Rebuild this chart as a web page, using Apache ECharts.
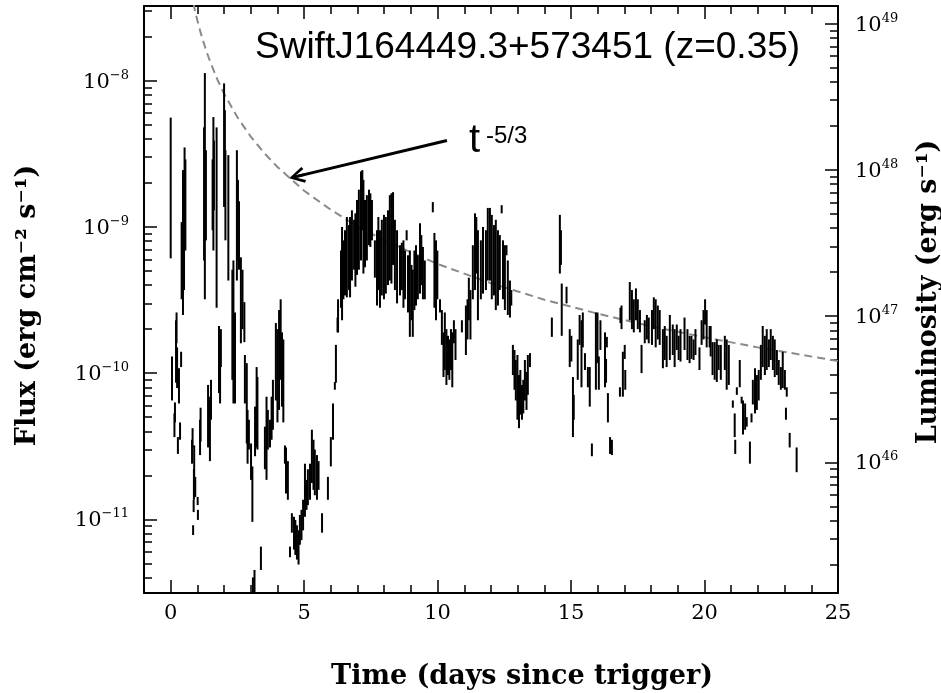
<!DOCTYPE html>
<html><head><meta charset="utf-8">
<script src="https://cdn.jsdelivr.net/npm/echarts@6/dist/echarts.min.js"></script>
<style>html,body{margin:0;padding:0;background:#fff}#c{width:941px;height:693px}</style>
</head><body><div id="c"></div>
<script>
// ---- light-curve data (time in days since trigger, flux band of each bin, erg cm^-2 s^-1) ----
const times = [
0.00,0.05,0.14,0.16,0.20,0.22,0.24,0.27,0.31,0.35,0.39,0.41,0.46,0.50,0.52,0.55,0.80,0.82,0.86,0.84,0.87,0.88,0.92,1.01,1.02,1.10,1.12,
1.25,1.28,1.32,1.40,1.43,1.47,1.51,1.57,1.60,1.62,1.72,1.81,1.85,1.88,2.00,2.03,2.05,2.16,
2.31,2.35,2.41,2.48,2.52,2.56,2.63,2.69,2.76,2.78,2.85,2.88,2.93,3.01,3.06,3.08,3.14,3.16,3.22,3.25,3.38,
3.53,3.59,3.64,3.72,3.78,3.83,3.94,4.00,4.06,4.12,4.17,4.22,4.28,4.32,4.39,4.47,4.54,4.62,4.67,4.73,4.79,4.84,4.90,4.96,5.03,5.09,5.14,5.22,5.29,5.35,5.40,5.48,5.54,5.67,
5.89,6.00,6.08,6.15,6.19,6.25,6.27,6.38,6.42,6.47,6.53,6.60,6.68,6.72,6.79,6.87,6.92,6.98,7.05,7.13,7.18,7.22,7.28,
7.35,7.43,7.48,7.54,7.65,7.73,7.78,7.84,7.91,7.99,8.06,8.14,8.21,8.27,8.33,8.40,8.48,8.59,8.66,8.72,8.78,8.84,8.89,8.96,9.02,9.07,9.13,9.19,9.26,9.34,9.39,9.45,9.52,9.82,9.88,9.94,9.99,10.09,
10.16,10.22,10.27,10.33,10.39,10.44,10.50,10.55,10.61,10.67,10.91,11.06,11.12,11.17,11.23,11.32,11.40,11.45,11.51,
11.62,11.70,11.81,11.88,11.96,12.03,12.11,12.18,12.26,12.33,12.40,12.45,12.52,12.58,12.63,12.71,12.76,
12.82,12.88,12.93,12.99,13.05,13.10,13.16,13.21,13.27,13.33,13.38,13.46,
14.28,14.58,14.62,14.65,14.83,14.95,15.01,15.07,15.10,15.25,15.32,15.39,15.44,15.52,15.63,15.70,15.78,15.93,15.99,16.04,16.10,16.27,16.31,16.34,16.38,16.46,16.53,
16.83,16.85,16.89,16.94,17.01,17.03,17.20,17.28,17.35,17.43,17.50,17.58,17.64,17.76,17.84,17.91,18.03,18.10,18.17,18.25,18.32,18.44,18.51,18.58,18.70,18.81,18.88,18.96,19.03,19.10,19.25,19.36,19.44,19.51,19.59,19.66,19.81,19.89,19.96,20.02,20.08,20.19,20.23,20.30,20.38,20.46,20.53,20.61,20.76,20.83,20.91,
21.06,21.13,21.15,21.21,21.32,21.39,21.44,21.52,21.58,21.70,21.76,21.81,21.89,21.96,22.03,22.11,22.18,22.26,22.33,22.41,22.48,22.56,22.63,22.71,22.78,22.86,22.93,23.01,23.05,23.08,23.19,23.45
];
const fluxHigh = [
5.6e-9,1.3e-10,5.3e-11,6.3e-11,2.3e-10,2.6e-10,1.5e-10,3.65e-11,1.08e-10,4.6e-11,1.4e-10,1.08e-9,2.45e-9,1.8e-9,3.5e-9,2.9e-9,3.5e-11,4.2e-11,1.36e-11,9.1e-12,2.2e-11,3.2e-11,1.95e-11,1.42e-11,1.16e-11,4.8e-11,5.8e-11,
4.8e-9,1.13e-8,3.35e-9,8.3e-11,6.9e-11,6.5e-11,9.0e-11,2.9e-9,5.65e-9,3.9e-9,4.8e-9,2.1e-10,1.8e-10,2.0e-10,9.6e-9,6.3e-9,3.35e-9,3.1e-9,
5.1e-10,5.9e-10,2.6e-10,3.35e-9,2.1e-9,1.5e-9,6.2e-10,5.1e-10,3.06e-10,1.33e-10,1.17e-10,5.6e-11,4.8e-11,3.3e-11,2.3e-11,4.0e-12,4.5e-12,5.9e-11,1.1e-10,9.4e-11,6.5e-12,
4.3e-11,6.9e-11,5.6e-11,4.8e-11,6.9e-11,9.0e-11,2.2e-10,2.0e-10,2.7e-10,3.2e-10,1.9e-10,1.7e-10,3.2e-11,3.1e-11,2.5e-11,6.5e-12,1.1e-11,1.04e-11,9.9e-12,9.1e-12,8.4e-12,1.07e-11,1.16e-11,1.36e-11,2.4e-11,1.86e-11,2.2e-11,2.4e-11,4.1e-11,3.5e-11,3.0e-11,2.75e-11,2.5e-11,1.1e-11,
1.95e-11,3.65e-11,6.2e-11,8.7e-11,1.56e-10,2.4e-10,3.2e-10,6.9e-10,1.0e-9,8.1e-10,9.5e-10,1.17e-9,1.03e-9,1.17e-9,1.3e-9,1.12e-9,1.24e-9,1.53e-9,1.8e-9,2.4e-9,2.45e-9,2.1e-9,1.53e-9,
1.65e-9,1.8e-9,1.7e-9,1.53e-9,8.1e-10,9.5e-10,1.17e-9,9.5e-10,1.12e-9,1.21e-9,1.17e-9,1.3e-9,1.65e-9,1.7e-9,1.73e-9,1.12e-9,9.5e-10,7.5e-10,7.8e-10,8.1e-10,6.9e-10,9.5e-10,6.4e-10,6.9e-10,5.5e-10,5.1e-10,6.9e-10,7.5e-10,6.4e-10,1.06e-9,8.8e-10,7.3e-10,5.9e-10,1.48e-9,9.1e-10,8.1e-10,6.9e-10,3.2e-10,
2.7e-10,1.9e-10,2.6e-10,2.0e-10,1.8e-10,1.7e-10,2.0e-10,1.9e-10,2.3e-10,2.0e-10,2.3e-10,2.9e-10,3.2e-10,4.5e-10,3.7e-10,7.5e-10,1.24e-9,1.17e-9,9.5e-10,
8.1e-10,1.0e-9,9.5e-10,1.35e-9,1.35e-9,1.21e-9,1.03e-9,1.12e-9,9.5e-10,8.8e-10,1.41e-9,8.1e-10,7.5e-10,7.5e-10,5.9e-10,4.3e-10,3.7e-10,
1.56e-10,1.44e-10,1.23e-10,1.33e-10,9.7e-11,1.05e-10,8.3e-11,9.0e-11,1.23e-10,1.02e-10,1.33e-10,1.37e-10,
2.4e-10,1.21e-9,9.5e-10,4.1e-10,3.9e-10,2.0e-10,1.8e-10,9.4e-11,7.1e-11,1.7e-10,2.5e-10,2.3e-10,2.6e-10,1.37e-10,1.1e-10,1.1e-10,3.3e-11,2.6e-10,2.6e-10,1.3e-10,2.3e-10,1.9e-10,1.25e-10,1.77e-10,7.3e-11,3.65e-11,3.5e-11,
8.0e-11,2.8e-10,2.9e-10,1.4e-10,1.56e-10,1.05e-10,4.2e-10,3.7e-10,3.2e-10,3.8e-10,3.2e-10,2.7e-10,1.56e-10,2.3e-10,2.5e-10,2.4e-10,2.7e-10,3.3e-10,3.2e-10,2.9e-10,2.7e-10,2.0e-10,2.1e-10,1.8e-10,2.5e-10,2.15e-10,2.0e-10,2.15e-10,1.8e-10,2.0e-10,2.4e-10,2.0e-10,1.8e-10,1.8e-10,1.7e-10,2.0e-10,1.5e-10,2.3e-10,2.7e-10,3.2e-10,2.7e-10,2.1e-10,2.1e-10,1.63e-10,1.63e-10,1.7e-10,1.56e-10,1.56e-10,1.8e-10,1.7e-10,1.56e-10,
6.5e-11,5.3e-11,3.5e-11,8.0e-11,1.23e-10,6.9e-11,6.5e-11,6.2e-11,5.0e-11,3.4e-11,5.3e-11,9.0e-11,1.08e-10,9.7e-11,1.05e-10,1.56e-10,2.1e-10,1.8e-10,2.0e-10,1.7e-10,2.0e-10,1.8e-10,1.7e-10,1.44e-10,1.23e-10,1.1e-10,1.4e-10,1.05e-10,5.8e-11,8.0e-11,3.9e-11,3.1e-11
];
const fluxLow = [
6.1e-10,6.5e-11,3.65e-11,4.6e-11,8.6e-11,1.6e-10,7.9e-11,2.8e-11,6.2e-11,3.5e-11,1.1e-10,3.2e-10,2.5e-10,3.7e-10,1.46e-9,6.9e-10,2.4e-11,3.1e-11,1.12e-11,7.8e-12,1.36e-11,1.95e-11,1.42e-11,1.25e-11,9.9e-12,2.75e-11,3.4e-11,
5.9e-10,3.2e-10,8.1e-10,3.1e-11,3.5e-11,2.5e-11,4.8e-11,9.5e-10,6.9e-10,1.3e-9,2.8e-10,7.3e-11,6.2e-11,1.1e-10,1.37e-9,1.53e-9,8.1e-10,4.3e-10,
9.0e-11,6.2e-11,6.2e-11,4.3e-10,5.9e-10,5.1e-10,1.6e-10,2.0e-10,1.63e-10,6.2e-11,3.3e-11,2.4e-11,3.0e-11,1.86e-11,9.6e-12,3.1e-12,3.1e-12,2.7e-11,3.1e-11,3.0e-11,4.5e-12,
2.2e-11,1.86e-11,3.0e-11,3.1e-11,3.5e-11,4.1e-11,6.5e-11,4.6e-11,5.6e-11,9.0e-11,5.9e-11,4.6e-11,2.4e-11,1.5e-11,1.36e-11,5.5e-12,8.1e-12,6.2e-12,5.7e-12,5.3e-12,4.9e-12,6.7e-12,7.2e-12,8.4e-12,1.04e-11,1.16e-11,1.25e-11,1.36e-11,1.77e-11,1.59e-11,1.46e-11,1.36e-11,1.59e-11,8.1e-12,
1.36e-11,2.3e-11,3.5e-11,7.7e-11,8.6e-11,1.9e-10,1.9e-10,2.8e-10,2.3e-10,3.2e-10,3.4e-10,3.3e-10,3.7e-10,3.3e-10,4.3e-10,5.1e-10,3.9e-10,4.7e-10,5.1e-10,5.9e-10,9.5e-10,4.8e-10,5.3e-10,
5.9e-10,7.5e-10,7.3e-10,8.1e-10,4.5e-10,2.9e-10,3.7e-10,2.8e-10,3.4e-10,3.2e-10,3.5e-10,4.0e-10,4.3e-10,4.1e-10,5.5e-10,3.7e-10,3.0e-10,3.4e-10,3.7e-10,2.8e-10,3.2e-10,8.1e-10,2.6e-10,1.77e-10,2.3e-10,1.77e-10,2.7e-10,2.9e-10,3.2e-10,3.5e-10,4.0e-10,3.2e-10,3.2e-10,1.26e-9,2.8e-10,2.3e-10,3.2e-10,2.6e-10,
1.56e-10,9.4e-11,1.05e-10,8.3e-11,9.7e-11,9.0e-11,1.05e-10,8.0e-11,1.6e-10,1.23e-10,1.9e-10,1.33e-10,1.7e-10,2.3e-10,1.7e-10,3.2e-10,3.7e-10,4.8e-10,2.3e-10,
3.2e-10,3.5e-10,3.7e-10,4.3e-10,4.3e-10,3.2e-10,3.4e-10,2.7e-10,2.9e-10,3.7e-10,1.24e-9,3.2e-10,2.7e-10,6.4e-10,2.5e-10,2.4e-10,2.9e-10,
9.7e-11,7.7e-11,6.5e-11,4.8e-11,4.2e-11,5.2e-11,4.8e-11,5.3e-11,6.5e-11,5.6e-11,7.1e-11,1.1e-10,
1.77e-10,4.8e-10,5.5e-10,1.8e-10,3.0e-10,1.1e-10,1.2e-10,3.65e-11,4.8e-11,9.0e-11,1.56e-10,8.0e-11,1.5e-10,1.05e-10,8.0e-11,5.9e-11,2.7e-11,7.7e-11,1.17e-10,7.7e-11,1.44e-10,8.0e-11,8.6e-11,1.5e-10,4.6e-11,2.8e-11,2.75e-11,
6.9e-11,2.2e-10,2.0e-10,6.9e-11,1.25e-10,7.7e-11,2.3e-10,2.0e-10,1.9e-10,2.3e-10,2.0e-10,1.9e-10,1.0e-10,1.6e-10,1.7e-10,1.6e-10,1.56e-10,2.0e-10,1.5e-10,1.7e-10,1.56e-10,1.08e-10,1.23e-10,1.1e-10,1.23e-10,1.33e-10,1.1e-10,1.44e-10,1.23e-10,1.2e-10,1.44e-10,1.23e-10,1.17e-10,1.25e-10,1.23e-10,1.33e-10,1.05e-10,1.56e-10,1.7e-10,2.15e-10,1.5e-10,1.5e-10,1.3e-10,9.7e-11,9.0e-11,8.7e-11,1.05e-10,9.0e-11,1.05e-10,7.7e-11,8.3e-11,
5.8e-11,3.65e-11,2.8e-11,7.1e-11,8.0e-11,6.2e-11,3.8e-11,4.1e-11,4.3e-11,2.4e-11,4.6e-11,6.1e-11,5.3e-11,5.6e-11,6.5e-11,9.0e-11,1.1e-10,9.7e-11,1.05e-10,1.1e-10,1.23e-10,1.05e-10,9.4e-11,9.7e-11,8.3e-11,7.7e-11,7.9e-11,7.7e-11,4.8e-11,6.9e-11,3.1e-11,2.1e-11
];
// ---- t^-5/3 curve ----
const modelTimes = [0.85,0.9,0.95,1.0,1.1,1.2,1.35,1.5,1.75,2,2.5,3,3.5,4,5,6,7,8,10,12,14,16,18,20,22,25];
const modelFlux  = [3.40e-8,3.09e-8,2.82e-8,2.59e-8,2.21e-8,1.91e-8,1.57e-8,1.32e-8,1.02e-8,8.16e-9,5.63e-9,4.15e-9,3.21e-9,2.57e-9,1.77e-9,1.31e-9,1.01e-9,8.09e-10,5.58e-10,4.12e-10,3.18e-10,2.55e-10,2.09e-10,1.76e-10,1.50e-10,1.21e-10];
// ---- arrow annotation (time, flux) ----
const arrowStart = [10.35, 3.9e-9];
const arrowEnd = [4.73, 2.22e-9];
// ---- axes ----
const xRange = [-1, 25];
const xMajorTicks = [0,5,10,15,20,25];
const xMinorTicks = [0,1,2,3,4,5,6,7,8,9,10,11,12,13,14,15,16,17,18,19,20,21,22,23,24,25];
const fluxRange = [3.13e-12, 3.25e-8];
const fluxMajorTicks = [1e-11,1e-10,1e-9,1e-8];
const fluxMinorTicks = [4e-12,5e-12,6e-12,7e-12,8e-12,9e-12,
  2e-11,3e-11,4e-11,5e-11,6e-11,7e-11,8e-11,9e-11,
  2e-10,3e-10,4e-10,5e-10,6e-10,7e-10,8e-10,9e-10,
  2e-9,3e-9,4e-9,5e-9,6e-9,7e-9,8e-9,9e-9,
  2e-8,3e-8];
const lumRange = [1.28e45, 1.32e49];
const lumMajorTicks = [1e46,1e47,1e48,1e49];
const lumMinorTicks = [2e45,3e45,4e45,5e45,6e45,7e45,8e45,9e45,
  2e46,3e46,4e46,5e46,6e46,7e46,8e46,9e46,
  2e47,3e47,4e47,5e47,6e47,7e47,8e47,9e47,
  2e48,3e48,4e48,5e48,6e48,7e48,8e48,9e48];

const serif = "'DejaVu Serif', serif";
const sans = "'Liberation Sans', Arial, sans-serif";

function powLabel(v) {
  const e = Math.round(Math.log10(v));
  return '{a|10}{b|' + (e < 0 ? '\u2212' : '') + Math.abs(e) + '}';
}
const powRich = {
  a: { fontFamily: serif, fontSize: 21, color: '#000', lineHeight: 24, verticalAlign: 'bottom' },
  b: { fontFamily: serif, fontSize: 13, color: '#000', lineHeight: 13, verticalAlign: 'top' }
};
const tickStyle = { color: '#000', width: 1.5 };
function nameStyle(padding) {
  return { fontFamily: serif, fontWeight: 'bold', fontSize: 27, color: '#000', padding: padding };
}

function xAxisDef(pos, major) {
  return {
    type: 'value', position: pos, min: xRange[0], max: xRange[1],
    axisLine: { show: major, onZero: false, lineStyle: { color: '#000', width: 2 } },
    axisTick: { show: true, inside: true, length: major ? 13 : 8, customValues: major ? xMajorTicks : xMinorTicks, lineStyle: tickStyle },
    axisLabel: (major && pos === 'bottom')
      ? { show: true, customValues: xMajorTicks, margin: 10, color: '#000', fontFamily: serif, fontSize: 21 }
      : { show: false },
    splitLine: { show: false }
  };
}
function yAxisDef(pos, major, range, majorTicks, minorTicks) {
  return {
    type: 'log', logBase: 10, position: pos, min: range[0], max: range[1],
    axisLine: { show: major, onZero: false, lineStyle: { color: '#000', width: 2 } },
    axisTick: { show: true, inside: true, length: major ? 13 : 8, customValues: major ? majorTicks : minorTicks, lineStyle: tickStyle },
    axisLabel: major
      ? { show: true, customValues: majorTicks, margin: pos === 'left' ? 15 : 17, formatter: powLabel, rich: powRich }
      : { show: false },
    splitLine: { show: false }, minorTick: { show: false }
  };
}

const xBottom = xAxisDef('bottom', true);
xBottom.name = 'Time (days since trigger)';
xBottom.nameLocation = 'middle';
xBottom.nameGap = 70;
xBottom.nameMoveOverlap = false;
xBottom.nameTextStyle = nameStyle([0, 0, 0, 62]);

const yLeft = yAxisDef('left', true, fluxRange, fluxMajorTicks, fluxMinorTicks);
yLeft.name = 'Flux (erg cm\u207B\u00B2 s\u207B\u00B9)';
yLeft.nameLocation = 'middle';
yLeft.nameGap = 103;
yLeft.nameRotate = 90;
yLeft.nameMoveOverlap = false;
yLeft.nameTextStyle = nameStyle([0, 12, 0, 0]);

const yRight = yAxisDef('right', true, lumRange, lumMajorTicks, lumMinorTicks);
yRight.name = 'Luminosity (erg s\u207B\u00B9)';
yRight.nameLocation = 'middle';
yRight.nameGap = 77;
yRight.nameRotate = 90;
yRight.nameMoveOverlap = false;
yRight.nameTextStyle = nameStyle([0, 0, 0, 15]);

const chevron = 'path://M5,0 L10,9 L8.6,10 L5.8,4.6 L5.8,10 L4.2,10 L4.2,4.6 L1.4,10 L0,9 Z';

const option = {
  animation: false,
  backgroundColor: '#fff',
  grid: { left: 144, right: 103, top: 6, bottom: 100, containLabel: false, outerBoundsMode: 'none', show: false },
  title: [
    { text: 'SwiftJ164449.3+573451 (z=0.35)', left: 255, top: 29, padding: 0,
      textStyle: { fontFamily: sans, fontSize: 37, fontWeight: 'normal', color: '#000' } },
    { text: 't', left: 469, top: 121, padding: 0,
      textStyle: { fontFamily: sans, fontSize: 40, fontWeight: 'normal', color: '#000' } },
    { text: '-5/3', left: 486, top: 124, padding: 0,
      textStyle: { fontFamily: sans, fontSize: 24, fontWeight: 'normal', color: '#000' } }
  ],
  xAxis: [xBottom, xAxisDef('bottom', false), xAxisDef('top', true), xAxisDef('top', false)],
  yAxis: [yLeft, yAxisDef('left', false, fluxRange, fluxMajorTicks, fluxMinorTicks),
          yRight, yAxisDef('right', false, lumRange, lumMajorTicks, lumMinorTicks)],
  series: [
    {
      type: 'line', xAxisIndex: 0, yAxisIndex: 0, z: 2,
      data: modelTimes.map((t, i) => [t, modelFlux[i]]),
      symbol: 'none', showSymbol: false, smooth: false, clip: true,
      lineStyle: { color: '#8a8a8a', width: 2, type: [8, 5] },
      markLine: {
        silent: true, animation: false,
        symbol: ['none', chevron], symbolSize: [16, 16],
        lineStyle: { color: '#000', width: 3, type: 'solid' },
        itemStyle: { color: '#000' },
        label: { show: false },
        data: [[{ coord: arrowStart }, { coord: arrowEnd }]]
      }
    },
    {
      type: 'custom', xAxisIndex: 0, yAxisIndex: 0, z: 3, clip: true,
      data: times.map((t, i) => [t, fluxLow[i], fluxHigh[i]]),
      encode: { x: 0, y: [1, 2] },
      renderItem: function (params, api) {
        const p1 = api.coord([api.value(0), api.value(1)]);
        const p2 = api.coord([api.value(0), api.value(2)]);
        return { type: 'line', shape: { x1: p1[0], y1: p1[1], x2: p2[0], y2: p2[1] },
                 style: { stroke: '#000', lineWidth: 2 } };
      }
    }
  ]
};
const chart = echarts.init(document.getElementById('c'), null, { renderer: 'canvas' });
chart.setOption(option);
</script>
</body></html>
